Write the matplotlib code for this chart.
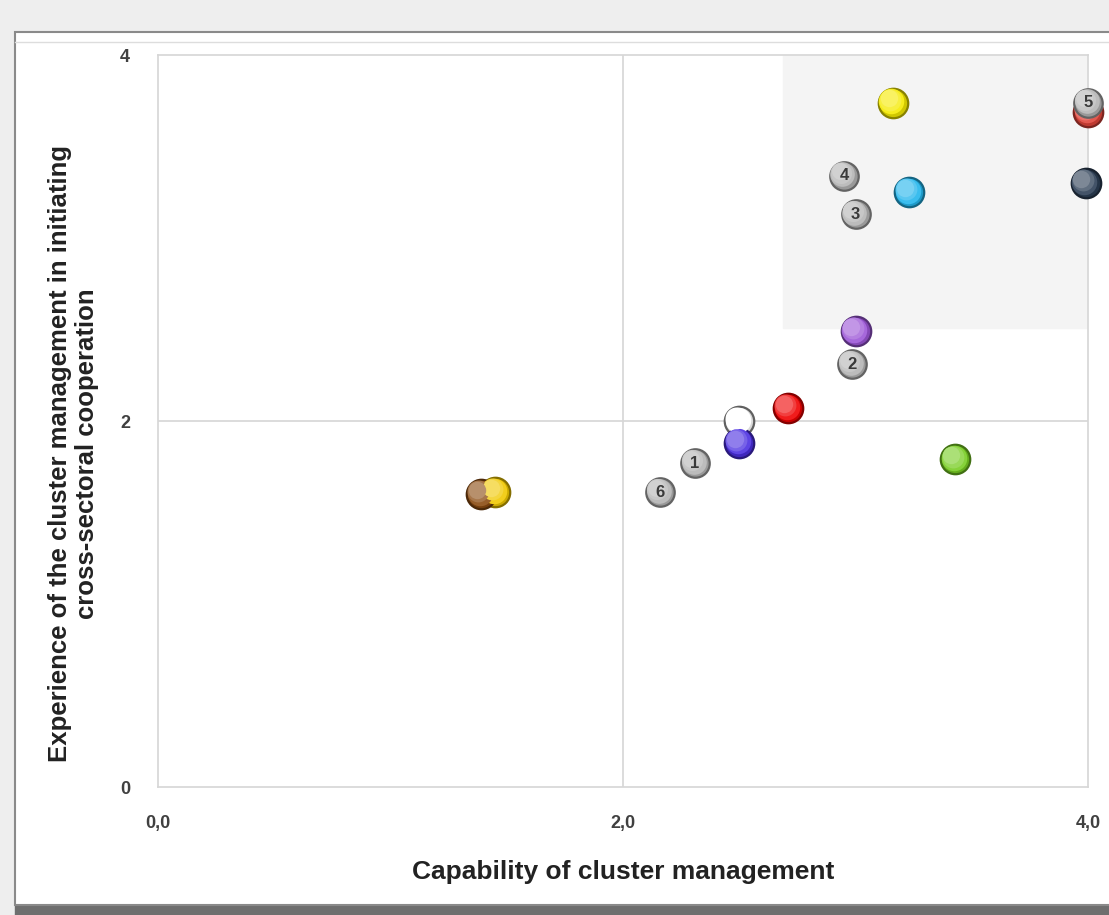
import matplotlib.pyplot as plt
import matplotlib.patches as mpatches
import numpy as np

plt.rcParams['font.family'] = ['Liberation Sans', 'DejaVu Sans']

# clusters (coloured spheres)
cl_x = [3.16, 4.00, 3.99, 3.23, 3.00, 2.71, 2.50, 2.50, 3.43, 1.45, 1.39]
cl_y = [3.74, 3.69, 3.30, 3.25, 2.49, 2.07, 2.00, 1.88, 1.79, 1.61, 1.60]
cl_col = ['#f5ea00', '#e0443a', '#2c3e55', '#22b5ec', '#9b55d6', '#ee0000',
          '#ffffff', '#4a2ee0', '#77cc22', '#f0c800', '#8a4a10']

# numbered reference points
num_lab = ['5', '4', '3', '2', '1', '6']
num_x = [4.00, 2.95, 3.00, 2.985, 2.31, 2.16]
num_y = [3.74, 3.34, 3.13, 2.31, 1.77, 1.61]

xticks = [0, 2, 4]
xticklabels = ['0,0', '2,0', '4,0']
yticks = [0, 2, 4]


def mix(c, other, t):
    a = np.array(plt.matplotlib.colors.to_rgb(c))
    b = np.array(plt.matplotlib.colors.to_rgb(other))
    return tuple(np.clip(a * (1 - t) + b * t, 0, 1))


def sphere(ax, x, y, c, s=450, z=3):
    # glossy ball: dark rim, lighter layers shifted up-left
    edge = '#606060' if c == '#ffffff' else mix(c, 'black', 0.45)
    ax.scatter(x, y, s=s, color=mix(c, 'black', 0.15), edgecolors=[edge], linewidths=1.6,
               zorder=z, clip_on=False)
    for k, t in enumerate([0.2, 0.45, 0.7]):
        ax.scatter(x - 0.006 * (k + 1), y + 0.008 * (k + 1), s=s * (0.75 - 0.2 * k),
                   color=mix(c, 'white', t * 0.55), linewidths=0, zorder=z + 0.1 * (k + 1),
                   clip_on=False)


fig = plt.figure(figsize=(11.09, 9.15), dpi=100, facecolor='#eeeeee')

# framed panel with a drop shadow
fig.patches.append(mpatches.Rectangle((15 / 1109, 0), 1, 10 / 915, transform=fig.transFigure,
                                      color='#6e6e6e', zorder=-2))
fig.patches.append(mpatches.Rectangle((15 / 1109, 10 / 915), 1, 873 / 915,
                                      transform=fig.transFigure, facecolor='white',
                                      edgecolor='#8a8a8a', linewidth=1.5, zorder=-2))
fig.add_artist(plt.Line2D([15 / 1109, 1], [1 - 42 / 915] * 2, color='#dddddd', lw=1, zorder=-1))

ax = fig.add_axes([158 / 1109, 128 / 915, 930 / 1109, 732 / 915])
ax.set_zorder(1)
ax.set_xlim(0, 4)
ax.set_ylim(0, 4)

ax.add_patch(mpatches.Rectangle((2.69, 2.51), 1.31, 1.49, color='#f4f4f4', zorder=0))
ax.axvline(2, color='#d6d6d6', lw=1.2, zorder=1)
ax.axhline(2, color='#d6d6d6', lw=1.2, zorder=1)

for i in range(len(cl_x)):
    sphere(ax, cl_x[i], cl_y[i], cl_col[i])

for i in range(len(num_x)):
    sphere(ax, num_x[i], num_y[i], '#b4b4b4', s=420, z=5)
    ax.text(num_x[i], num_y[i], num_lab[i], ha='center', va='center', fontsize=12,
            fontweight='bold', color='#3a3a3a', zorder=6, clip_on=False)

for sp in ax.spines.values():
    sp.set_color('#d6d6d6')
    sp.set_linewidth(1.2)

ax.set_xticks(xticks)
ax.set_xticklabels(xticklabels)
ax.set_yticks(yticks)
ax.tick_params(length=0, labelsize=13, colors='#404040')
ax.tick_params(axis='x', pad=20)
ax.tick_params(axis='y', pad=20)
for lab in ax.get_xticklabels() + ax.get_yticklabels():
    lab.set_fontweight('bold')

ax.set_xlabel('Capability of cluster management', fontsize=19, fontweight='bold',
              color='#222222', labelpad=20)
ax.set_ylabel('Experience of the cluster management in initiating\ncross-sectoral cooperation',
              fontsize=18.5, fontweight='bold', color='#222222')
ax.yaxis.set_label_coords(-0.063, 0.455)

fig.savefig('out.png', dpi=100, facecolor=fig.get_facecolor())
